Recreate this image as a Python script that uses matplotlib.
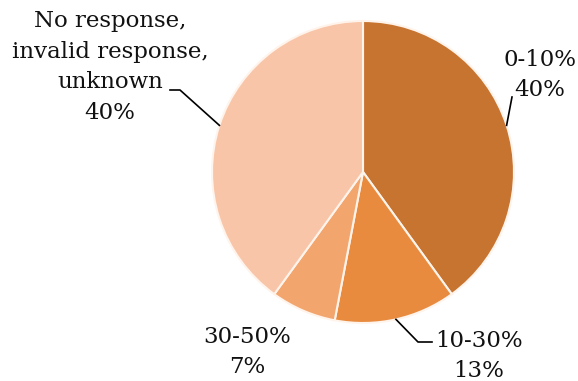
import numpy as np
import matplotlib.pyplot as plt

labels = ['0-10%', '10-30%', '30-50%', 'No response,\ninvalid response,\nunknown']
shares = [40, 13, 7, 40]
colors = ['#C77431', '#E88B3E', '#F3A56E', '#F9C5A8']

W, H = 578, 381
fig = plt.figure(figsize=(W / 100, H / 100), dpi=100)
ax = fig.add_axes([0, 0, 1, 1])

cx, cy, r = 363, H - 172, 151
wedges, _ = ax.pie(shares, colors=colors, startangle=90, counterclock=False,
                   center=(cx, cy), radius=r, frame=True,
                   wedgeprops=dict(edgecolor='#FFF4EC', linewidth=1.5))
ax.set_xlim(0, W)
ax.set_ylim(0, H)
ax.set_aspect('equal')
ax.axis('off')

font = dict(family='DejaVu Serif', fontsize=16.5, color='#111111', ha='center',
            linespacing=1.5)

# label positions (text centre) and leader elbows, in pixel coords from top
layout = [
    ((540, 75), [(512, 97)]),
    ((479, 356), [(418, 342), (432, 342)]),
    ((247, 352), None),
    ((110, 67), [(180, 90), (170, 90)]),
]

for w, lab, val, (pos, elbow) in zip(wedges, labels, shares, layout):
    ax.text(pos[0], H - pos[1], f'{lab}\n{val}%', va='center', **font)
    if elbow:
        mid = np.deg2rad((w.theta1 + w.theta2) / 2)
        pts = [(cx + r * np.cos(mid), cy + r * np.sin(mid))]
        pts += [(x, H - y) for x, y in elbow]
        xs, ys = zip(*pts)
        ax.plot(xs, ys, color='black', lw=1.2)

fig.savefig('out.png', dpi=100)
